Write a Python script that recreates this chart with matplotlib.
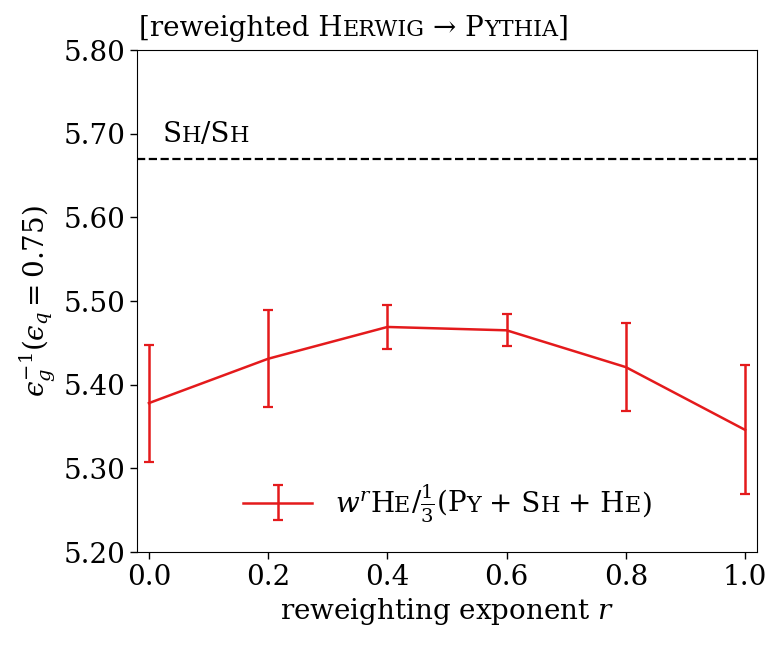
import numpy as np
import matplotlib
matplotlib.use('Agg')
import matplotlib.pyplot as plt
from matplotlib.font_manager import FontProperties
from matplotlib.container import ErrorbarContainer
from matplotlib.legend_handler import HandlerErrorbar

plt.rcParams['font.family'] = 'DejaVu Serif'
plt.rcParams['mathtext.fontset'] = 'dejavuserif'

# data
r_vals = [0.0, 0.2, 0.4, 0.6, 0.8, 1.0]
eff_inv = [5.378, 5.431, 5.469, 5.465, 5.421, 5.346]
eff_err = [0.070, 0.058, 0.026, 0.019, 0.053, 0.077]
sh_sh_ref = 5.67
yticks = [5.20, 5.30, 5.40, 5.50, 5.60, 5.70, 5.80]
xticks = [0.0, 0.2, 0.4, 0.6, 0.8, 1.0]

BIG = 20
SMALL = 16
red = '#e41a1c'

fig = plt.figure(figsize=(7.8, 6.48), dpi=100)
ax = fig.add_axes([0.1756, 0.1481, 0.7949, 0.7747])

rend = fig.canvas.get_renderer()
_, _, d = rend.get_text_width_height_descent('lp', FontProperties(family='DejaVu Serif', size=BIG), ismath=False)
d0 = d * 72 / fig.dpi


def chain(ax, first, pieces):
    # small caps faked by chaining text pieces of two sizes on one baseline
    prev = first
    for s, fs, gap in pieces:
        prev = ax.annotate(s, xy=(1, 0), xycoords=(prev, first),
                           xytext=(gap, d0), textcoords='offset points',
                           va='baseline', ha='left', fontsize=fs,
                           annotation_clip=False, zorder=6)
    return prev


gap = 0.3 * BIG

ax.errorbar(r_vals, eff_inv, yerr=eff_err, color=red, lw=1.8,
            capsize=3.5, capthick=1.6, elinewidth=1.8, label='$w^r$H')
ax.axhline(sh_sh_ref, color='black', ls='--', lw=1.6)

t = ax.text(0.023, 5.690, 'S', fontsize=BIG, va='baseline', ha='left')
chain(ax, t, [('H', SMALL, 0), ('/S', BIG, 0), ('H', SMALL, 0)])

t = ax.text(0.004, 1.028, '[reweighted H', transform=ax.transAxes,
            fontsize=BIG, va='baseline', ha='left')
chain(ax, t, [('ERWIG', SMALL, 0), ('\u2192 P', BIG, gap),
              ('YTHIA', SMALL, 0), (']', BIG, 0)])

leg = ax.legend(loc='center left', bbox_to_anchor=(0.171, 0.094),
                frameon=False, fontsize=BIG, handlelength=2.5,
                handletextpad=0.8, borderaxespad=0, borderpad=0,
                handler_map={ErrorbarContainer: HandlerErrorbar(yerr_size=0.62)})
lt = leg.get_texts()[0]
chain(ax, lt, [('E', SMALL, 0), ('/$\\frac{1}{3}$(P', BIG, 0), ('Y', SMALL, 0),
               ('+ S', BIG, gap), ('H', SMALL, 0), ('+ H', BIG, gap),
               ('E', SMALL, 0), (')', BIG, 0)])

ax.set_xlim(-0.02, 1.02)
ax.set_ylim(5.20, 5.80)
ax.set_xticks(xticks)
ax.set_xticklabels(['%.1f' % v for v in xticks])
ax.set_yticks(yticks)
ax.set_yticklabels(['%.2f' % v for v in yticks])
ax.tick_params(labelsize=BIG, length=5, width=1)
ax.set_xlabel('reweighting exponent $r$', fontsize=BIG)
ax.set_ylabel('$\u03f5_g^{-1}(\u03f5_q = 0.75)$', fontsize=BIG)

fig.savefig('out.png', dpi=100)
